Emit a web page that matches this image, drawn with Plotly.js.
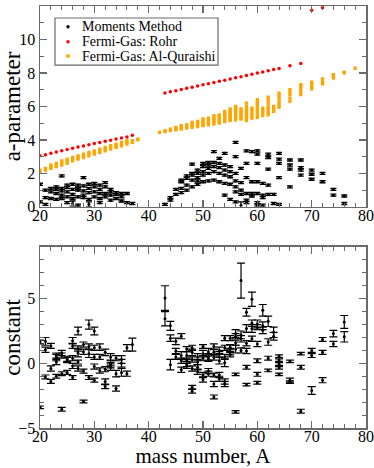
<!DOCTYPE html>
<html>
<head>
<meta charset="utf-8">
<script src="https://cdn.plot.ly/plotly-3.0.1.min.js"></script>
<style>
  html, body { margin: 0; padding: 0; background: #fff; }
  #myPlot { width: 374px; height: 468px; }
</style>
</head>
<body>
<div id="myPlot"></div>
<script>
// mass numbers that have moments-method results
const momA = [20, 21, 22, 23, 24, 25, 26, 27, 28, 29, 30, 31, 32, 33, 34, 35, 36, 37,
  43, 44, 45, 46, 47, 48, 49, 50, 51, 52, 53, 54, 55, 56, 57, 58, 59, 60, 61, 62, 63, 64,
  66, 68, 70, 72, 74, 76];

// a-parameter from moments method, [value, error] for each nucleus of a given A
const momAparam = [
  [[1.35, .06], [0.3, .06]],
  [[1.0, .06], [0.55, .06], [0.15, .06]],
  [[1.1, .06], [0.9, .06], [0.5, .06]],
  [[1.2, .06], [1.05, .06], [0.8, .06], [0.45, .06]],
  [[1.85, .06], [1.1, .06], [0.95, .06], [0.7, .06], [0.5, .06]],
  [[1.3, .06], [1.15, .06], [0.9, .06], [0.6, .06], [0.25, .06]],
  [[1.35, .06], [1.05, .06], [0.75, .06], [0.5, .06], [0.2, .15]],
  [[1.3, .06], [1.1, .06], [1.0, .06], [0.6, .06], [0.1, .06]],
  [[1.75, .06], [1.25, .06], [0.95, .06], [0.7, .06], [0.55, .06]],
  [[1.35, .06], [1.1, .06], [0.85, .06], [0.45, .06], [0.15, .15]],
  [[1.4, .06], [1.2, .06], [0.9, .06], [0.6, .06]],
  [[1.3, .06], [1.05, .06], [0.8, .06], [0.5, .06], [0.25, .06]],
  [[1.45, .06], [1.2, .06], [0.8, .06], [0.6, .06]],
  [[1.05, .06], [0.9, .06], [0.7, .06], [0.4, .06]],
  [[0.85, .06], [0.75, .06], [0.5, .06]],
  [[0.8, .06], [0.6, .06], [0.35, .06]],
  [[0.8, .06], [0.25, .06]],
  [[0.2, .06]],
  [[0.15, .06]],
  [[0.55, .06], [0.4, .06]],
  [[1.05, .06], [0.75, .06]],
  [[1.6, .06], [1.5, .06], [1.1, .06], [0.85, .06]],
  [[1.85, .06], [1.7, .06], [1.3, .06], [1.0, .06]],
  [[2.55, .06], [2.0, .06], [1.9, .06], [1.6, .06], [1.2, .06]],
  [[2.2, .06], [2.0, .06], [1.75, .06], [1.55, .06], [1.35, .06]],
  [[2.6, .06], [2.4, .06], [2.1, .06], [1.9, .06], [1.5, .06]],
  [[2.65, .06], [2.5, .06], [2.3, .06], [2.0, .06], [1.55, .06]],
  [[3.3, .06], [2.65, .06], [2.4, .06], [2.1, .06], [1.6, .06]],
  [[2.9, .06], [2.6, .06], [2.35, .06], [2.0, .06], [1.5, .06]],
  [[3.2, .06], [2.5, .06], [2.2, .06], [1.9, .06], [1.4, .06], [0.7, .06]],
  [[2.4, .06], [2.1, .06], [1.8, .06], [1.35, .06], [0.45, .06]],
  [[3.85, .06], [3.0, .06], [2.0, .06], [1.55, .06], [1.2, .06], [0.9, .06], [0.3, .06]],
  [[2.3, .06], [1.45, .06], [1.0, .06], [0.75, .06], [0.1, .2]],
  [[3.35, .06], [2.6, .06], [1.75, .06], [0.8, .06], [0.4, .06], [0.25, .06]],
  [[3.3, .06], [1.5, .06], [0.8, .06], [0.65, .06]],
  [[3.35, .06], [3.15, .06], [2.6, .06], [1.5, .06], [0.8, .06], [0.25, .06], [0.1, .06]],
  [[1.4, .06], [0.7, .06], [0.55, .06], [0.1, .06]],
  [[3.15, .06], [2.95, .06], [2.25, .06], [1.3, .06], [0.75, .06]],
  [[0.75, .06], [0.2, .06]],
  [[3.2, .06], [2.85, .06], [2.6, .06], [1.75, .06], [0.15, .06]],
  [[2.8, .06], [2.5, .06], [2.25, .06], [1.2, .06]],
  [[2.8, .06], [2.35, .06], [2.2, .06], [1.9, .06]],
  [[2.2, .06], [1.95, .06], [1.65, .06]],
  [[2.0, .06], [1.5, .06]],
  [[1.05, .06], [0.7, .06]],
  [[0.65, .06], [0.2, .06]]
];

// constant from moments method, [value, error]
const momConst = [
  [[1.65, .15], [-3.4, .1]],
  [[1.7, .3], [1.05, .2], [-1.05, .15]],
  [[1.35, .2], [-0.4, .2], [-1.4, .15]],
  [[0.6, .2], [0.45, .25], [0.1, .2], [-1.0, .15]],
  [[0.8, .2], [0.6, .2], [-0.8, .15], [-3.55, .15]],
  [[0.35, .2], [0.25, .2], [-0.7, .15]],
  [[1.75, .25], [1.35, .2], [0.4, .2], [-0.2, .2], [-1.1, .15]],
  [[2.5, .3], [1.15, .2], [0.8, .3], [0.1, .15], [-0.4, .2]],
  [[1.45, .2], [0.9, .2], [-0.6, .15], [-2.95, .1]],
  [[3.0, .35], [1.3, .2], [0.75, .3], [-1.1, .15]],
  [[2.5, .3], [1.2, .2], [0.5, .2], [-0.25, .2], [-1.3, .15]],
  [[1.25, .25], [0.5, .2], [-0.55, .2]],
  [[0.85, .25], [-0.45, .2], [-1.4, .2], [-1.8, .15]],
  [[0.5, .25], [0.0, .2], [-0.15, .2], [-0.3, .25]],
  [[0.4, .2], [-0.8, .25], [-1.95, .2]],
  [[0.3, .3], [0.0, .3], [-0.7, .3]],
  [[1.2, .25], [-0.8, .2]],
  [[1.45, .5]],
  [[5.05, .95], [3.45, .55]],
  [[2.9, .35], [1.95, .25], [-0.1, .4]],
  [[1.7, .25], [0.95, .2], [0.5, .2]],
  [[2.1, .2], [0.6, .3], [0.2, .2], [-0.5, .2]],
  [[1.1, .2], [0.6, .3], [0.2, .2], [-0.05, .2], [-0.2, .2]],
  [[1.2, .2], [0.85, .25], [0.3, .2], [-0.4, .2], [-1.85, .15], [-2.15, .15]],
  [[0.5, .25], [0.1, .2], [-0.3, .2], [-0.65, .2]],
  [[1.3, .15], [0.75, .25], [0.4, .2], [-0.9, .2], [-1.25, .2]],
  [[0.9, .25], [0.5, .25], [0.35, .2], [-0.6, .2], [-0.8, .2]],
  [[1.3, .2], [0.85, .2], [0.45, .2], [-0.9, .15], [-1.6, .2], [-2.6, .15]],
  [[1.0, .25], [0.7, .2], [0.2, .25], [-0.9, .2], [-1.2, .2]],
  [[1.95, .2], [1.2, .2], [0.5, .2], [0.05, .3], [-1.4, .2], [-1.6, .2]],
  [[1.95, .2], [1.25, .2], [1.15, .3], [0.9, .25], [0.7, .2]],
  [[2.3, .3], [2.1, .2], [1.6, .2], [1.1, .3], [-0.85, .1], [-3.75, .1]],
  [[6.4, 1.35], [2.2, .3], [1.9, .25], [1.0, .2]],
  [[3.95, .3], [2.7, .3], [1.55, .2], [0.95, .2], [-0.3, .15], [-1.65, .1]],
  [[4.95, .55], [3.1, .25], [2.7, .3], [1.9, .2]],
  [[3.05, .3], [2.8, .2], [1.5, .2], [0.2, .15], [-0.85, .15], [-1.5, .1]],
  [[4.1, .45], [2.9, .3], [2.55, .25]],
  [[3.25, .4], [1.65, .25], [0.4, .15], [-0.55, .1]],
  [[2.4, .4], [2.1, .3]],
  [[0.55, .1], [0.25, .1], [-0.05, .1], [-0.35, .1], [-0.85, .1]],
  [[0.15, .1], [-1.3, .15], [-1.45, .1]],
  [[0.75, .1], [-0.3, .15], [-3.7, .15]],
  [[1.0, .15], [0.6, .15], [-2.1, .3]],
  [[1.85, .15], [0.85, .15], [-1.3, .2]],
  [[2.3, .25], [1.5, .2]],
  [[3.2, .5], [2.05, .4]]
];

// Fermi-gas, Rohr systematics
const rohrA = [20, 21, 22, 23, 24, 25, 26, 27, 28, 29, 30, 31, 32, 33, 34, 35, 36, 37,
  43, 44, 45, 46, 47, 48, 49, 50, 51, 52, 53, 54, 55, 56, 57, 58, 59, 60, 61, 62, 63, 64,
  66, 68, 70, 72];
const rohrVal = [3.05, 3.12, 3.2, 3.28, 3.35, 3.42, 3.5, 3.57, 3.64, 3.71, 3.78, 3.85, 3.92, 3.98, 4.05, 4.12, 4.18, 4.28,
  6.8, 6.87, 6.94, 7.01, 7.08, 7.15, 7.22, 7.29, 7.36, 7.43, 7.5, 7.57, 7.64, 7.71, 7.78, 7.85, 7.92, 7.99, 8.06, 8.13, 8.2, 8.27,
  8.43, 8.57, 11.75, 11.9];

// Fermi-gas, Al-Quraishi systematics (several nuclei per A)
const alqA = [20, 21, 22, 23, 24, 25, 26, 27, 28, 29, 30, 31, 32, 33, 34, 35, 36, 37, 38,
  42, 43, 44, 45, 46, 47, 48, 49, 50, 51, 52, 53, 54, 55, 56, 57, 58, 59, 60, 61, 62, 63, 64,
  66, 68, 70, 72, 74, 76, 78];
const alqVal = [
  [2.1, 2.2], [2.2, 2.3], [2.3, 2.4, 2.5], [2.4, 2.5, 2.6], [2.5, 2.65, 2.75],
  [2.6, 2.75, 2.85], [2.75, 2.85, 2.95], [2.85, 2.95, 3.05], [2.95, 3.05, 3.15],
  [3.05, 3.15, 3.25], [3.15, 3.25, 3.35], [3.25, 3.35, 3.45], [3.35, 3.45, 3.55],
  [3.45, 3.55, 3.65], [3.55, 3.65, 3.75], [3.65, 3.75, 3.85], [3.75, 3.85, 3.95],
  [3.85, 3.95], [4.0, 4.05],
  [4.45], [4.5, 4.55], [4.55, 4.65], [4.6, 4.7, 4.75], [4.65, 4.75, 4.85],
  [4.7, 4.8, 4.9], [4.75, 4.85, 4.95, 5.05], [4.8, 4.9, 5.0, 5.1],
  [4.85, 4.95, 5.05, 5.15, 5.25], [4.9, 5.0, 5.1, 5.2, 5.3],
  [4.95, 5.05, 5.15, 5.25, 5.35, 5.45], [5.0, 5.1, 5.2, 5.3, 5.4, 5.5],
  [5.1, 5.2, 5.3, 5.4, 5.5, 5.6, 5.7], [5.15, 5.25, 5.35, 5.45, 5.55, 5.65, 5.75, 5.85],
  [5.2, 5.3, 5.4, 5.5, 5.6, 5.7, 5.8, 5.9, 6.0], [5.25, 5.35, 5.45, 5.55, 5.65, 5.75, 5.85],
  [5.15, 5.3, 5.4, 5.5, 5.6, 5.7, 5.85, 6.0, 6.2], [5.3, 5.45, 5.6, 5.75, 5.9],
  [5.35, 5.5, 5.65, 5.8, 5.95, 6.1, 6.25, 6.4], [5.45, 5.6, 5.75, 5.9],
  [5.5, 5.65, 5.8, 5.95, 6.15, 6.35, 6.55], [5.7, 5.85, 6.0],
  [5.95, 6.1, 6.3, 6.5, 6.65, 6.8],
  [6.3, 6.5, 6.7, 6.85, 7.0], [6.7, 6.9, 7.05, 7.2, 7.3], [7.05, 7.2, 7.35, 7.45],
  [7.35, 7.5, 7.65], [7.7, 7.8, 7.9], [8.0, 8.05], [8.28]
];

// legend entries (name, colour, symbol)
const seriesNames = ["Moments Method", "Fermi-Gas: Rohr", "Fermi-Gas: Al-Quraishi"];
const seriesColors = ["black", "red", "orange"];
const seriesShapes = ["circle", "circle", "rect"];

// flatten grouped lists into x / y / err arrays
function flatPairs(aList, groups) {
  const x = [], y = [], e = [];
  groups.forEach((g, i) => {
    g.forEach((p) => { x.push(aList[i]); y.push(p[0]); e.push(p[1]); });
  });
  return { x, y, e };
}
function flatVals(aList, groups) {
  const x = [], y = [];
  groups.forEach((g, i) => {
    g.forEach((v) => { x.push(aList[i]); y.push(v); });
  });
  return { x, y };
}

const aparamPts = flatPairs(momA, momAparam);
const constPts = flatPairs(momA, momConst);
const alqPts = flatVals(alqA, alqVal);

const serif = "Liberation Serif";
const frame = "#6a6a6a";

const traceMom = {
  x: aparamPts.x, y: aparamPts.y,
  error_y: { type: "data", array: aparamPts.e, visible: true, color: "black", thickness: 1.3, width: 3 },
  type: "scatter", mode: "markers",
  marker: { color: seriesColors[0], size: 3 },
  name: seriesNames[0],
  xaxis: "x", yaxis: "y",
};
const traceRohr = {
  x: rohrA, y: rohrVal,
  type: "scatter", mode: "markers",
  marker: { color: seriesColors[1], size: 3.5 },
  name: seriesNames[1],
  xaxis: "x", yaxis: "y",
};
const traceAlq = {
  x: alqPts.x, y: alqPts.y,
  type: "scatter", mode: "markers",
  marker: { color: seriesColors[2], size: 3.3, symbol: "square" },
  name: seriesNames[2],
  xaxis: "x", yaxis: "y",
};
const traceConst = {
  x: constPts.x, y: constPts.y,
  error_y: { type: "data", array: constPts.e, visible: true, color: "black", thickness: 1.2, width: 4 },
  type: "scatter", mode: "markers",
  marker: { color: "black", size: 3 },
  xaxis: "x2", yaxis: "y2",
};

/**
 * compact boxed legend in the upper-left corner of the top panel
 * (plotly's own legend rows are too tall for this figure)
 */
const legBox = { x0: 0.046, x1: 0.546, y0: 0.860, y1: 0.9716 };
const legRows = [0.951, 0.9154, 0.8815];
const legShapes = [{
  type: "rect", xref: "paper", yref: "paper", layer: "above",
  x0: legBox.x0, x1: legBox.x1, y0: legBox.y0, y1: legBox.y1,
  fillcolor: "white", line: { color: frame, width: 1.2 },
}];
const legNotes = [];
seriesNames.forEach((name, i) => {
  legShapes.push({
    type: seriesShapes[i], xref: "paper", yref: "paper", layer: "above",
    xsizemode: "pixel", ysizemode: "pixel",
    xanchor: 0.0859, yanchor: legRows[i],
    x0: -1.7, x1: 1.7, y0: -1.7, y1: 1.7,
    fillcolor: seriesColors[i], line: { width: 0 },
  });
  legNotes.push({
    xref: "paper", yref: "paper", x: 0.1227, y: legRows[i],
    xanchor: "left", yanchor: "middle", showarrow: false,
    text: name, font: { family: serif, size: 14, color: "black" },
  });
});

function axisBase() {
  return {
    showgrid: false, zeroline: false,
    showline: true, mirror: "ticks", linecolor: frame, linewidth: 1.5,
    ticks: "inside", ticklen: 7, tickwidth: 1.5, tickcolor: frame,
    tickfont: { family: serif, size: 16, color: "black" },
  };
}

const layout = {
  width: 374, height: 468,
  margin: { l: 40, r: 8, t: 6, b: 40 },
  paper_bgcolor: "white", plot_bgcolor: "white",
  font: { family: serif, color: "black" },
  showlegend: false,
  shapes: legShapes,
  annotations: legNotes,
  xaxis: Object.assign(axisBase(), {
    anchor: "y", range: [20, 80], dtick: 10, ticklabelstandoff: -7,
    minor: { dtick: 2, ticks: "inside", ticklen: 4, tickcolor: frame, tickwidth: 1 },
  }),
  yaxis: Object.assign(axisBase(), {
    domain: [0.524, 1], anchor: "x", range: [0, 12], dtick: 2, ticklabelstandoff: 0,
    minor: { dtick: 1, ticks: "inside", ticklen: 4, tickcolor: frame, tickwidth: 1 },
    title: { text: "a-parameter", font: { family: serif, size: 23 }, standoff: 4 },
  }),
  xaxis2: Object.assign(axisBase(), {
    anchor: "y2", range: [20, 80], dtick: 10, ticklabelstandoff: -7,
    minor: { dtick: 2, ticks: "inside", ticklen: 4, tickcolor: frame, tickwidth: 1 },
    title: { text: "mass number, A", font: { family: serif, size: 21 }, standoff: 8 },
  }),
  yaxis2: Object.assign(axisBase(), {
    domain: [0, 0.429], anchor: "x2", range: [-5, 9], tickvals: [-5, 0, 5], ticklabelstandoff: 0,
    minor: { dtick: 1, ticks: "inside", ticklen: 4, tickcolor: frame, tickwidth: 1 },
    title: { text: "constant", font: { family: serif, size: 23 }, standoff: 10 },
  }),
};

Plotly.newPlot("myPlot", [traceMom, traceRohr, traceAlq, traceConst], layout, { staticPlot: true });
</script>
</body>
</html>
